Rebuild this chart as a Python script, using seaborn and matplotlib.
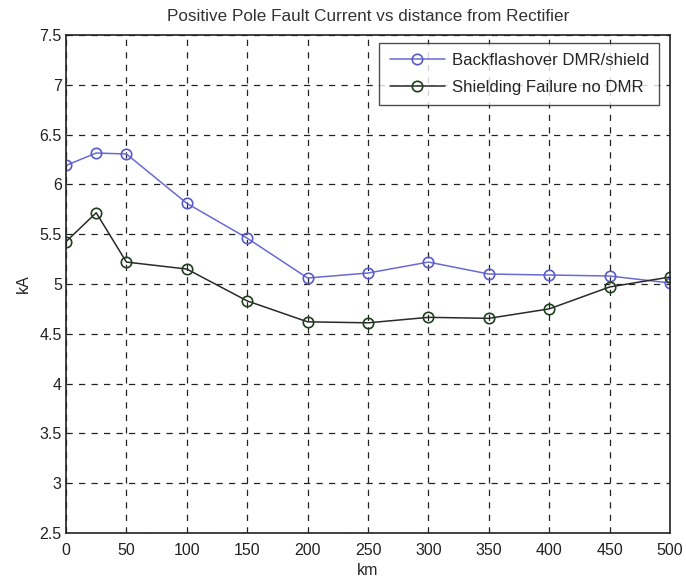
import matplotlib
matplotlib.use("Agg")
import matplotlib.pyplot as plt
import seaborn as sns
import numpy as np

distance_km = [0, 25, 50, 100, 150, 200, 250, 300, 350, 400, 450, 500]
backflashover = [6.19, 6.315, 6.305, 5.81, 5.46, 5.06, 5.11, 5.22, 5.10, 5.09, 5.08, 5.01]
shielding_failure = [5.425, 5.715, 5.22, 5.15, 4.83, 4.62, 4.61, 4.665, 4.655, 4.75, 4.97, 5.07]
series_labels = ["Backflashover DMR/shield", "Shielding Failure no DMR"]
x_ticks = [0, 50, 100, 150, 200, 250, 300, 350, 400, 450, 500]
y_ticks = [2.5, 3, 3.5, 4, 4.5, 5, 5.5, 6, 6.5, 7, 7.5]
y_tick_labels = ["2.5", "3", "3.5", "4", "4.5", "5", "5.5", "6", "6.5", "7", "7.5"]

sns.set_style("white")
plt.rcParams['font.family'] = ['Liberation Sans', 'DejaVu Sans']

fig = plt.figure(figsize=(6.86, 5.83), dpi=100)
ax = fig.add_axes([0.0962, 0.0858, 0.8805, 0.8542])

sns.lineplot(x=distance_km, y=backflashover, ax=ax, color='#6a6ad6', linewidth=1.1,
             marker='o', markersize=7.5, markerfacecolor='none',
             markeredgecolor='#5a5acc', markeredgewidth=1.2, label=series_labels[0])
sns.lineplot(x=distance_km, y=shielding_failure, ax=ax, color='#2a2a2a', linewidth=1.1,
             marker='o', markersize=7.5, markerfacecolor='none',
             markeredgecolor='#1f3f1f', markeredgewidth=1.2, label=series_labels[1])

ax.set_xlim(0, 500)
ax.set_ylim(2.5, 7.5)
ax.set_xticks(x_ticks)
ax.set_xticklabels([str(t) for t in x_ticks])
ax.set_yticks(y_ticks)
ax.set_yticklabels(y_tick_labels)
ax.grid(True, linestyle=(0, (5, 5)), color='#222222', linewidth=0.9)
ax.tick_params(axis='both', direction='in', length=5, labelsize=11.5, colors='#222222')
ax.tick_params(axis='x', pad=7)
ax.tick_params(axis='y', pad=3)
for s in ax.spines.values():
    s.set_color('#222222')
    s.set_linewidth(1.2)

ax.set_title("Positive Pole Fault Current vs distance from Rectifier", fontsize=12.3, color='#333333', pad=10)
ax.set_xlabel("km", fontsize=11.5, labelpad=4)
ax.set_ylabel("kA", fontsize=11.5, labelpad=6)

leg = ax.legend(loc='upper right', bbox_to_anchor=(0.9818, 0.984), borderaxespad=0,
                fontsize=12.1, frameon=True, fancybox=False,
                edgecolor='#222222', handlelength=3.3, handletextpad=0.4,
                borderpad=0.6, labelspacing=0.7)
leg.get_frame().set_linewidth(1.0)

fig.savefig("out.png", dpi=100)
